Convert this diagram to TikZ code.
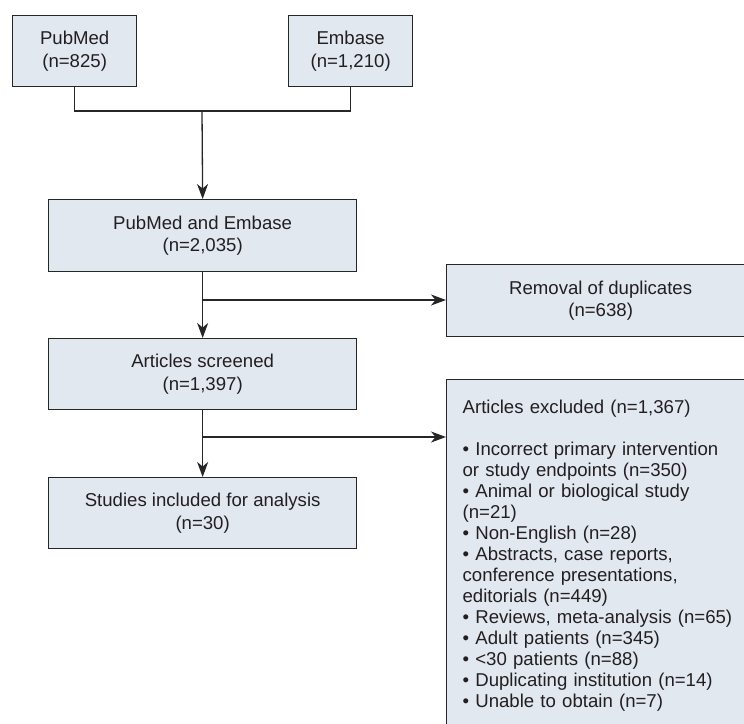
\documentclass[tikz,border=0pt]{standalone}
\usepackage{fontspec}
\setmainfont{Liberation Sans}
\usetikzlibrary{arrows.meta}
\definecolor{boxfill}{HTML}{E1E8F0}
\definecolor{linecol}{HTML}{262626}
\definecolor{textcol}{HTML}{231F20}
\begin{document}
\begin{tikzpicture}[x=1pt,y=-1pt,
  box/.style={draw=linecol, line width=1.3pt, fill=boxfill, inner sep=0pt,
    align=center, text=textcol, anchor=north west,
    font=\fontsize{18.6}{22.5}\selectfont},
  conn/.style={draw=linecol, line width=1.3pt},
  arr/.style={conn, -{Stealth[length=15pt,width=11pt,inset=4.5pt]}}]
\useasboundingbox (0,0) rectangle (744,723);
\clip (0,0) rectangle (744,723);
\node[box, minimum width=124, minimum height=71] (pubmed) at (12,15) {PubMed\\(n=825)};
\node[box, minimum width=124, minimum height=71] (embase) at (288,15) {Embase\\(n=1,210)};
\node[box, minimum width=308, minimum height=72] (pe) at (48,199) {PubMed and Embase\\(n=2,035)};
\node[box, minimum width=308, minimum height=72] (removal) at (446,264) {Removal of duplicates\\(n=638)};
\node[box, minimum width=308, minimum height=71] (screened) at (48,338) {Articles screened\\(n=1,397)};
\node[box, minimum width=308, minimum height=71] (studies) at (48,477) {Studies included for analysis\\(n=30)};
\node[box, align=left, text width=276, inner xsep=16pt, inner ysep=20pt,
  font=\fontsize{18.6}{21}\selectfont] (excl) at (446,379)
  {Articles excluded (n=1,367)\\[21pt]
   • Incorrect primary intervention\\
   or study endpoints (n=350)\\
   • Animal or biological study\\
   (n=21)\\
   • Non-English (n=28)\\
   • Abstracts, case reports,\\
   conference presentations,\\
   editorials (n=449)\\
   • Reviews, meta-analysis (n=65)\\
   • Adult patients (n=345)\\
   • <30 patients (n=88)\\
   • Duplicating institution (n=14)\\
   • Unable to obtain (n=7)};
\coordinate (j1) at (202,111);
\coordinate (j2) at (202,300);
\coordinate (j3) at (202,437);
\draw[conn] (pubmed.south) |- (j1) -| (embase.south);
\draw[arr] (j1) -- (pe.north);
\draw[arr] (pe.south) -- (screened.north);
\draw[arr] (j2) -- (removal.west |- j2);
\draw[arr] (screened.south) -- (studies.north);
\draw[arr] (j3) -- (excl.west |- j3);
\end{tikzpicture}
\end{document}
